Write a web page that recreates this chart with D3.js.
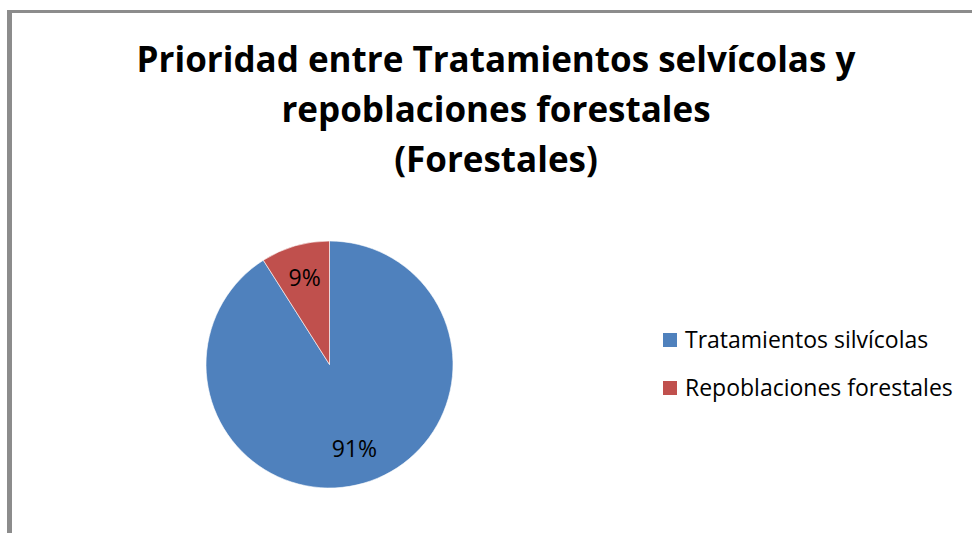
<!DOCTYPE html>
<html>
<head>
<meta charset="utf-8">
<script src="https://cdn.jsdelivr.net/npm/d3@7"></script>
<style>
  body { margin: 0; background: #fff; }
  text { font-family: "Open Sans", sans-serif; }
</style>
</head>
<body>
<script>
const width = 972;
const height = 533;

// data
const categories = ['Tratamientos silvícolas', 'Repoblaciones forestales'];
const values = [91, 9];
const colors = ['#4F81BD', '#C0504D'];
const titleLines = ['Prioridad entre Tratamientos selvícolas y', 'repoblaciones forestales', '(Forestales)'];

const cx = 329.5, cy = 364.5, radius = 123.5;

const svg = d3.select('body')
  .append('svg')
  .attr('width', width)
  .attr('height', height);

svg.append('rect')
  .attr('width', width)
  .attr('height', height)
  .attr('fill', '#fff');

// gray frame on top and left
svg.append('rect')
  .attr('x', 7).attr('y', 10)
  .attr('width', width - 7).attr('height', 3)
  .attr('fill', '#8c8c8c');
svg.append('rect')
  .attr('x', 7).attr('y', 10)
  .attr('width', 5).attr('height', height - 10)
  .attr('fill', '#8c8c8c');

// title
const title = svg.append('text')
  .attr('text-anchor', 'middle')
  .attr('font-weight', 'bold')
  .attr('font-size', 35)
  .attr('fill', '#000');
titleLines.forEach((t, i) => {
  title.append('tspan')
    .attr('x', 496)
    .attr('y', 72 + i * 50)
    .text(t);
});

// pie
const pie = d3.pie().sort(null)(values);
const arc = d3.arc().innerRadius(0).outerRadius(radius);
const labelArc = d3.arc().innerRadius(radius * 0.72).outerRadius(radius * 0.72);

const g = svg.append('g').attr('transform', `translate(${cx},${cy})`);

g.selectAll('path')
  .data(pie)
  .enter()
  .append('path')
  .attr('d', arc)
  .attr('fill', (d, i) => colors[i])
  .attr('stroke', '#fff')
  .attr('stroke-width', 0.6);

g.selectAll('text')
  .data(pie)
  .enter()
  .append('text')
  .attr('transform', d => `translate(${labelArc.centroid(d)})`)
  .attr('text-anchor', 'middle')
  .attr('dy', '0.3em')
  .attr('font-size', 23)
  .attr('fill', '#000')
  .text(d => d.value + '%');

// legend
const legend = svg.append('g').attr('transform', 'translate(663,333)');
const rows = legend.selectAll('g')
  .data(categories)
  .enter()
  .append('g')
  .attr('transform', (d, i) => `translate(0,${i * 48})`);
rows.append('rect')
  .attr('width', 14).attr('height', 14)
  .attr('fill', (d, i) => colors[i]);
rows.append('text')
  .attr('x', 22)
  .attr('y', 7)
  .attr('dy', '0.35em')
  .attr('font-size', 23)
  .attr('fill', '#000')
  .text(d => d);
</script>
</body>
</html>
